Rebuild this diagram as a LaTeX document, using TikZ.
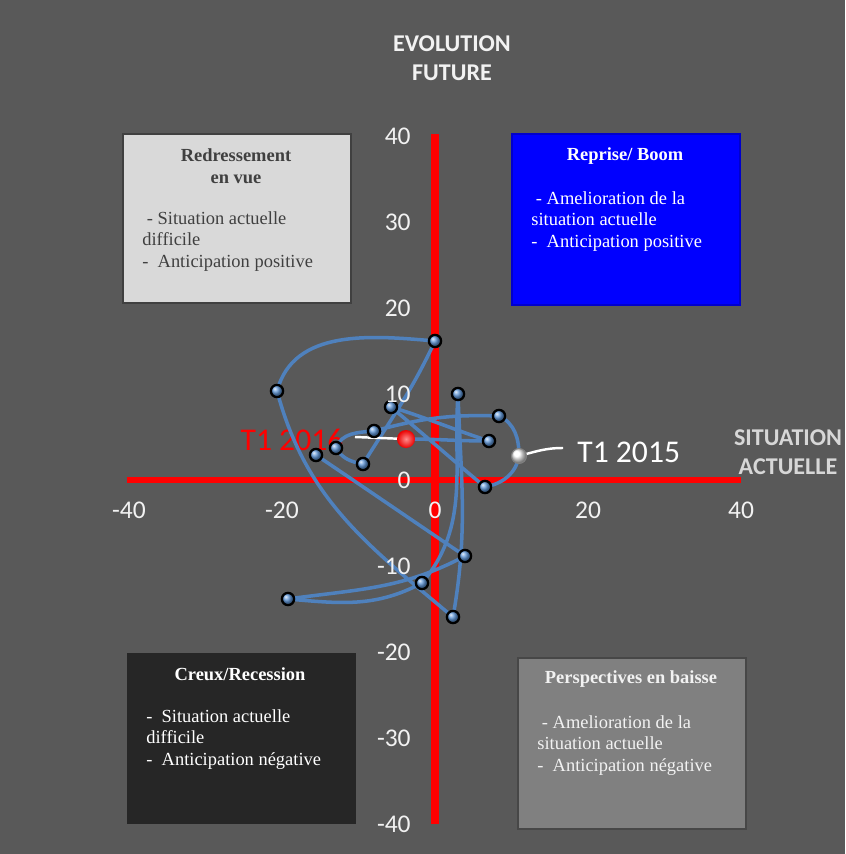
\documentclass[tikz,border=0pt]{standalone}
\usepackage{fontspec}
\setmainfont{Liberation Serif}
\newfontfamily\calibri{Carlito}

\definecolor{bggray}{RGB}{89,89,89}
\definecolor{axisred}{RGB}{255,0,0}
\definecolor{curveblue}{RGB}{79,129,189}
\definecolor{dotblue}{RGB}{95,150,215}
\definecolor{boomblue}{RGB}{0,0,255}
\definecolor{lightbox}{RGB}{217,217,217}
\definecolor{darkbox}{RGB}{38,38,38}
\definecolor{midbox}{RGB}{128,128,128}
\definecolor{labelgray}{RGB}{242,242,242}
\definecolor{axistitlegray}{RGB}{215,215,215}
\definecolor{darktext}{RGB}{64,64,64}

\tikzset{
	quadrant/.style={anchor=north west, inner sep=0pt, line width=1.1pt},
	boxtitle/.style={font=\fontsize{10.5}{12.2}\selectfont\bfseries, align=center, inner sep=0pt},
	boxbody/.style={font=\fontsize{10.5}{12.2}\selectfont, align=left, anchor=north west, inner sep=0pt},
	ticklabel/.style={font=\calibri\fontsize{14.5}{16}\selectfont, text=labelgray, inner sep=0pt},
	axistitle/.style={font=\calibri\bfseries\fontsize{13.7}{16.2}\selectfont, align=center, inner sep=0pt},
	datelabel/.style={font=\calibri\fontsize{18}{20}\selectfont, inner sep=0pt},
	trace/.style={curveblue, line width=2pt, line join=round, line cap=round},
	leader/.style={white, line width=1.4pt},
	dot/.style={circle, draw=black, line width=1.3pt, minimum size=0.245cm, inner sep=0pt, ball color=dotblue}
}

\begin{document}
\begin{tikzpicture}[x=0.02cm, y=0.02cm]
	\useasboundingbox (0,-854) rectangle (845,0);
	\clip (0,-854) rectangle (845,0);
	\fill[bggray] (0,-854) rectangle (845,0);

	% quadrants
	\node[quadrant, fill=lightbox, draw=darktext, minimum width=4.56cm, minimum height=3.38cm] (redress) at (122,-133) {};
	\node[quadrant, fill=boomblue, draw=boomblue!80!black, minimum width=4.56cm, minimum height=3.42cm] (boom) at (511,-133) {};
	\node[quadrant, fill=darkbox, draw=darkbox, minimum width=4.54cm, minimum height=3.38cm] (creux) at (127,-653) {};
	\node[quadrant, fill=midbox, draw=bggray!80!black, minimum width=4.56cm, minimum height=3.42cm] (baisse) at (517,-657) {};

	\node[boxtitle, text=darktext] (redresstitle) at (236,-166) {Redressement\\en vue};
	\node[boxbody, text=darktext] (redressbody) at (142,-211) {\hspace*{.25em}- Situation actuelle\\difficile\\-\ \ Anticipation positive};
	\node[boxtitle, text=white] (boomtitle) at (625,-156) {Reprise/ Boom};
	\node[boxbody, text=white] (boombody) at (531,-191) {\hspace*{.25em}- Amelioration de la\\situation actuelle\\-\ \ Anticipation positive};
	\node[boxtitle, text=white] (creuxtitle) at (240,-674) {Creux/Recession};
	\node[boxbody, text=white] (creuxbody) at (146,-709) {-\ \ Situation actuelle\\difficile\\-\ \ Anticipation n\'egative};
	\node[boxtitle, text=labelgray] (baissetitle) at (631,-679) {Perspectives en baisse};
	\node[boxbody, text=labelgray] (baissebody) at (537,-715) {\hspace*{.25em}- Amelioration de la\\situation actuelle\\-\ \ Anticipation n\'egative};

	% axes
	\coordinate (xmin) at (127,-480);
	\coordinate (xmax) at (741,-480);
	\coordinate (ymin) at (435,-824);
	\coordinate (ymax) at (435,-134);
	\draw[axisred, line width=3.4pt] (xmin) -- (xmax);
	\draw[axisred, line width=4.5pt] (ymin) -- (ymax);

	% quarters
	\coordinate (q1) at (316,-455);
	\coordinate (q2) at (465,-556);
	\coordinate (q3) at (288,-599);
	\coordinate (q4) at (422,-583);
	\coordinate (q5) at (458,-394);
	\coordinate (q6) at (453,-617);
	\coordinate (q7) at (277,-391);
	\coordinate (q8) at (435,-341);
	\coordinate (q9) at (363,-464);
	\coordinate (q10) at (336,-448);
	\coordinate (q11) at (374,-431);
	\coordinate (q12) at (499,-416);
	\coordinate (q13) at (519,-456);
	\coordinate (q14) at (485,-487);
	\coordinate (q15) at (391,-407);
	\coordinate (q16) at (489,-441);
	\coordinate (q17) at (406,-439);

	\node[datelabel, text=axisred] (lbl2016) at (292,-440) {T1 2016};

	\draw[trace] (q1) to[out=-34, in=146] (q2)
		to[out=208, in=8] (q3)
		to[out=-5, in=208] (q4)
		to[out=50, in=-94] (q5)
		to[out=-88, in=80] (q6)
		to[out=140, in=-75] (q7)
		to[out=75, in=175] (q8)
		to[out=245, in=58] (q9)
		to[out=170, in=-60] (q10)
		to[out=70, in=185] (q11)
		to[out=15, in=178] (q12)
		to[out=-25, in=90] (q13)
		to[out=-100, in=11] (q14)
		to[out=140, in=-40] (q15)
		to[out=-17, in=162] (q16)
		to[out=180, in=0] (q17);

	\coordinate (tip2016) at (355,-437);
	\coordinate (tip2015) at (563,-448);
	\draw[leader] (q17) -- (tip2016);
	\draw[leader] (q13) to[out=15, in=180] (tip2015);

	\foreach \q in {1,...,12,14,15,16}
		\node[dot] (dot\q) at (q\q) {};
	\node[circle, draw=gray, line width=0.6pt, minimum size=0.3cm, inner sep=0pt, ball color=white] (start2015) at (q13) {};
	\node[circle, minimum size=0.36cm, inner sep=0pt, shading=radial, inner color=axisred!45!white, outer color=axisred!92!black] (end2016) at (q17) {};

	\node[datelabel, text=white, anchor=west] (lbl2015) at (577,-452) {T1 2015};

	% tick labels
	\foreach \v in {40,30,...,-40}
		\node[ticklabel, anchor=east] (ytick\v) at (411,{-480+8.6*\v}) {\v};
	\foreach \v in {-40,-20,...,40}
		\node[ticklabel] (xtick\v) at ({435+7.65*\v},-510) {\v};

	\node[axistitle, text=labelgray] (evolution) at (452,-58) {EVOLUTION\\FUTURE};
	\node[axistitle, text=axistitlegray] (situation) at (788,-452) {SITUATION\\ACTUELLE};
\end{tikzpicture}
\end{document}
